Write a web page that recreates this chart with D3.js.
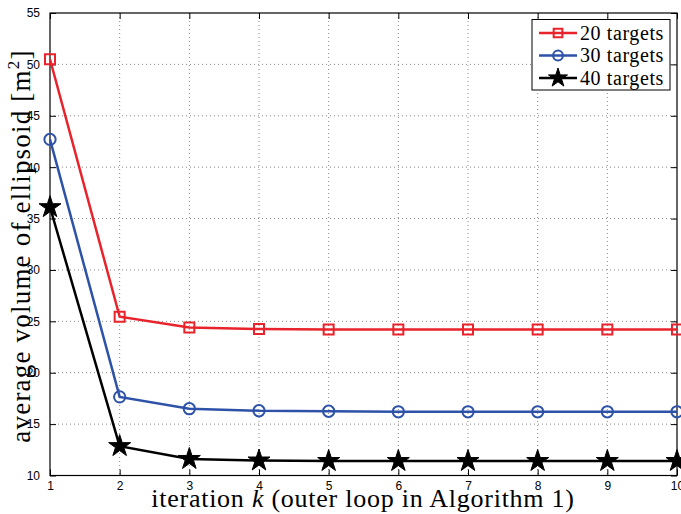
<!DOCTYPE html>
<html><head><meta charset="utf-8">
<script src="https://cdn.jsdelivr.net/npm/d3@7"></script>
<style>body{margin:0;background:#fff}svg{display:block}</style>
</head><body>
<svg id="c" width="681" height="514"></svg>
<script>
const iterations = [1,2,3,4,5,6,7,8,9,10];
const targets20 = [50.5, 25.45, 24.4, 24.25, 24.2, 24.2, 24.2, 24.2, 24.2, 24.2];
const targets30 = [42.7, 17.65, 16.5, 16.3, 16.25, 16.2, 16.2, 16.2, 16.2, 16.2];
const targets40 = [36.1, 12.85, 11.6, 11.45, 11.4, 11.4, 11.4, 11.4, 11.4, 11.4];
const xTicks = [1,2,3,4,5,6,7,8,9,10];
const yTicks = [10,15,20,25,30,35,40,45,50,55];
const seriesNames = ["20 targets","30 targets","40 targets"];

const svg = d3.select("#c");
const m = {l:50, t:13, r:677, b:475.5};
const x = d3.scaleLinear().domain([1,10]).range([m.l, m.r]);
const y = d3.scaleLinear().domain([10,55]).range([m.b, m.t]);

// axis labels (drawn first so tick labels sit on top)
svg.append("text").attr("x",363).attr("y",507).attr("text-anchor","middle")
  .attr("font-family","Liberation Serif, Times New Roman, serif").attr("font-size",26)
  .attr("letter-spacing",0.75)
  .html('iteration <tspan font-style="italic">k</tspan> (outer loop in Algorithm 1)');
svg.append("text").attr("transform","translate(30,246) rotate(-90)").attr("text-anchor","middle")
  .attr("font-family","Liberation Serif, Times New Roman, serif").attr("font-size",27)
  .attr("letter-spacing",1.2)
  .html('average volume of ellipsoid [m<tspan font-size="17" dy="-11">2</tspan><tspan dy="11">]</tspan>');

// grid
const g = svg.append("g");
g.selectAll(".gx").data(xTicks.slice(1,-1)).enter().append("line")
  .attr("x1",d=>x(d)).attr("x2",d=>x(d)).attr("y1",m.t).attr("y2",m.b)
  .attr("stroke","#888").attr("stroke-width",1).attr("stroke-dasharray","1,3");
g.selectAll(".gy").data(yTicks.slice(1,-1)).enter().append("line")
  .attr("y1",d=>y(d)).attr("y2",d=>y(d)).attr("x1",m.l).attr("x2",m.r)
  .attr("stroke","#888").attr("stroke-width",1).attr("stroke-dasharray","1,3");

// axes
const fontTick = "Liberation Sans, Arial, sans-serif";
const xAxis = d3.axisBottom(x).tickValues(xTicks).tickSize(-6).tickPadding(6).tickFormat(d3.format("d"));
const xAxisTop = d3.axisTop(x).tickValues(xTicks).tickSize(-6).tickFormat("");
const yAxis = d3.axisLeft(y).tickValues(yTicks).tickSize(-6).tickPadding(10).tickFormat(d3.format("d"));
const yAxisR = d3.axisRight(y).tickValues(yTicks).tickSize(-6).tickFormat("");
function styleAxis(sel){
  sel.select(".domain").remove();
  sel.selectAll("line").attr("stroke","#000").attr("stroke-width",1);
  sel.selectAll("text").attr("font-family",fontTick).attr("font-size",12).attr("fill","#000");
}
svg.append("g").attr("transform",`translate(0,${m.b})`).call(xAxis).call(styleAxis);
svg.append("g").attr("transform",`translate(0,${m.t})`).call(xAxisTop).call(styleAxis);
svg.append("g").attr("transform",`translate(${m.l},0)`).call(yAxis).call(styleAxis);
svg.append("g").attr("transform",`translate(${m.r},0)`).call(yAxisR).call(styleAxis);
svg.append("rect").attr("x",m.l).attr("y",m.t).attr("width",m.r-m.l).attr("height",m.b-m.t)
  .attr("fill","none").attr("stroke","#000").attr("stroke-width",1.2);

const series = [
  {name:seriesNames[0], vals:targets20, color:"#e8232b", sym:d3.symbolSquare, size:100, fill:"none"},
  {name:seriesNames[1], vals:targets30, color:"#2d52a8", sym:d3.symbolCircle, size:100, fill:"none"},
  {name:seriesNames[2], vals:targets40, color:"#000000", sym:d3.symbolStar, size:150, fill:"#000"}
];
const line = d3.line().x((d,i)=>x(iterations[i])).y(d=>y(d));
series.forEach(s=>{
  svg.append("path").datum(s.vals).attr("d",line).attr("fill","none")
    .attr("stroke",s.color).attr("stroke-width",2.5);
  svg.selectAll(null).data(s.vals).enter().append("path")
    .attr("d",d3.symbol().type(s.sym).size(s.size))
    .attr("transform",(d,i)=>`translate(${x(iterations[i])},${y(d)})`)
    .attr("fill",s.fill).attr("stroke",s.color).attr("stroke-width",s.fill==="none"?2:1);
});

// legend
const lg = svg.append("g");
lg.append("rect").attr("x",532).attr("y",19.5).attr("width",138).attr("height",70.5)
  .attr("fill","#fff").attr("stroke","#000").attr("stroke-width",1);
series.forEach((s,i)=>{
  const yy = 33 + i*22.5;
  lg.append("line").attr("x1",539).attr("x2",577).attr("y1",yy).attr("y2",yy)
    .attr("stroke",s.color).attr("stroke-width",2.5);
  lg.append("path").attr("d",d3.symbol().type(s.sym).size(s.size*0.75)())
    .attr("transform",`translate(558,${yy})`)
    .attr("fill",s.fill).attr("stroke",s.color).attr("stroke-width",s.fill==="none"?2:1);
  lg.append("text").attr("x",580).attr("y",yy+6.5).text(s.name)
    .attr("font-family","Liberation Serif, Times New Roman, serif").attr("font-size",20)
    .attr("letter-spacing",0.6);
});
</script>
</body></html>
